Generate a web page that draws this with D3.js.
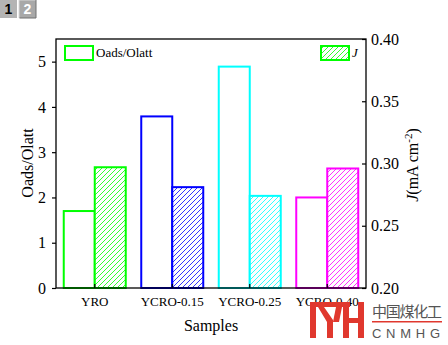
<!DOCTYPE html>
<html><head><meta charset="utf-8">
<script src="https://cdn.jsdelivr.net/npm/d3@7/dist/d3.min.js"></script>
<style>body{margin:0;background:#fff}svg{display:block}</style>
</head><body><svg id="c" width="448" height="345"></svg>
<script>
const categories = ["YRO","YCRO-0.15","YCRO-0.25","YCRO-0.40"];
const oadsValues = [1.70, 3.79, 4.89, 2.00];
const jValues = [0.297, 0.281, 0.274, 0.296];
const colors = ["#00ff00","#0000ff","#00ffff","#ff00ff"];
const leftTicks = [0,1,2,3,4,5];
const rightTicks = [0.20,0.25,0.30,0.35,0.40];

const svg = d3.select("#c");
const L=56,R=366,T=39,B=288;
const font="'Liberation Serif','Times New Roman',serif";
const x = d3.scaleBand().domain(categories).range([L,R]).padding(0);
const yL = d3.scaleLinear().domain([0,5.5]).range([B,T]);
const yR = d3.scaleLinear().domain([0.2,0.4]).range([B,T]);
const bw = x.bandwidth()*0.4;

const defs = svg.append("defs");
colors.forEach((c,i)=>{
  const p = defs.append("pattern").attr("id","h"+i).attr("patternUnits","userSpaceOnUse")
    .attr("width",5).attr("height",5);
  p.append("rect").attr("width",5).attr("height",5).attr("fill","#fff");
  p.append("path").attr("d","M-1,1 l2,-2 M0,5 l5,-5 M4,6 l2,-2").attr("stroke",c).attr("stroke-width",0.8);
});

// bars
categories.forEach((cat,i)=>{
  const cx = x(cat)+x.bandwidth()/2;
  svg.append("rect").attr("x",cx-bw).attr("y",yL(oadsValues[i])).attr("width",bw)
    .attr("height",B-yL(oadsValues[i])).attr("fill","#fff").attr("stroke",colors[i]).attr("stroke-width",2);
  svg.append("rect").attr("x",cx).attr("y",yR(jValues[i])).attr("width",bw)
    .attr("height",B-yR(jValues[i])).attr("fill","url(#h"+i+")").attr("stroke",colors[i]).attr("stroke-width",2);
});

// frame
svg.append("rect").attr("x",L).attr("y",T).attr("width",R-L).attr("height",B-T)
  .attr("fill","none").attr("stroke","#000").attr("stroke-width",1.3);

const styleAxis = (g,size)=>{
  g.select(".domain").remove();
  g.selectAll("line").attr("stroke","#000").attr("stroke-width",1.2);
  g.selectAll("text").attr("font-family",font).attr("font-size",size).attr("fill","#000");
};
svg.append("g").attr("transform",`translate(${L},0)`)
  .call(d3.axisLeft(yL).tickValues(leftTicks).tickSize(4).tickPadding(6).tickFormat(d3.format("d")))
  .call(g=>styleAxis(g,16));
svg.append("g").attr("transform",`translate(${R},0)`)
  .call(d3.axisRight(yR).tickValues(rightTicks).tickSize(-4).tickPadding(5).tickFormat(d3.format(".2f")))
  .call(g=>styleAxis(g,16));
svg.append("g").attr("transform",`translate(0,${B})`)
  .call(d3.axisBottom(x).tickSize(-4).tickPadding(9))
  .call(g=>styleAxis(g,13));

// axis titles
svg.append("text").attr("transform","translate(33,163) rotate(-90)").attr("text-anchor","middle")
  .attr("font-family",font).attr("font-size",16).text("Oads/Olatt");
const rt = svg.append("text").attr("transform","translate(418,165) rotate(-90)").attr("text-anchor","middle")
  .attr("font-family",font).attr("font-size",16);
rt.append("tspan").attr("font-style","italic").text("J");
rt.append("tspan").text("(mA cm");
rt.append("tspan").attr("font-size",11).attr("dy",-6).text("-2");
rt.append("tspan").attr("dy",6).text(")");
svg.append("text").attr("x",(L+R)/2).attr("y",331).attr("text-anchor","middle")
  .attr("font-family",font).attr("font-size",16).text("Samples");

// legend
svg.append("rect").attr("x",65).attr("y",46).attr("width",28).attr("height",14)
  .attr("fill","#fff").attr("stroke",colors[0]).attr("stroke-width",2);
svg.append("text").attr("x",96).attr("y",57).attr("font-family",font).attr("font-size",13).text("Oads/Olatt");
svg.append("rect").attr("x",321).attr("y",46).attr("width",28).attr("height",14)
  .attr("fill","url(#h0)").attr("stroke",colors[0]).attr("stroke-width",2);
svg.append("text").attr("x",352).attr("y",57).attr("font-family",font).attr("font-size",13)
  .attr("font-style","italic").text("J");

// page tabs
svg.append("rect").attr("x",0).attr("y",0).attr("width",17).attr("height",18).attr("fill","#b4b4b4");
svg.append("text").attr("x",8.5).attr("y",14).attr("text-anchor","middle").attr("font-family","'Liberation Sans',Arial,sans-serif")
  .attr("font-weight","bold").attr("font-size",14).text("1");
svg.append("rect").attr("x",19).attr("y",0).attr("width",17).attr("height",18).attr("fill","#a8a8a8");
svg.append("path").attr("d","M19,18 V0 H36").attr("fill","none").attr("stroke","#d8d8d8").attr("stroke-width",1);
svg.append("path").attr("d","M19.5,18 H36 V0").attr("fill","none").attr("stroke","#707070").attr("stroke-width",1);
svg.append("text").attr("x",27.5).attr("y",14).attr("text-anchor","middle").attr("font-family","'Liberation Sans',Arial,sans-serif")
  .attr("font-weight","bold").attr("font-size",14).attr("fill","#fff").text("2");

// watermark
const wm = svg.append("g").attr("fill","#e0382e");
wm.append("rect").attr("x",310).attr("y",302).attr("width",6).attr("height",36);
wm.append("rect").attr("x",310).attr("y",302).attr("width",40).attr("height",5);
wm.append("path").attr("d","M318,307 L324,307 L333,320 L333,338 L327,338 L327,322 Z");
wm.append("path").attr("d","M336,307 L342,307 L339,322 L333,322 Z");
wm.append("rect").attr("x",343).attr("y",302).attr("width",6).attr("height",36);
wm.append("rect").attr("x",358).attr("y",302).attr("width",6).attr("height",36);
wm.append("rect").attr("x",343).attr("y",318).attr("width",21).attr("height",5);
svg.append("text").attr("x",372).attr("y",317).attr("font-family","'Noto Sans CJK SC',sans-serif")
  .attr("font-size",15).attr("fill","#555").attr("textLength",70).text("中国煤化工");
svg.append("rect").attr("x",372).attr("y",321).attr("width",70).attr("height",1.5).attr("fill","#e0382e");
svg.append("text").attr("x",372).attr("y",338).attr("font-family","'Liberation Sans',Arial,sans-serif")
  .attr("font-size",13).attr("fill","#555").attr("textLength",68).text("CNMHG");
</script></body></html>
